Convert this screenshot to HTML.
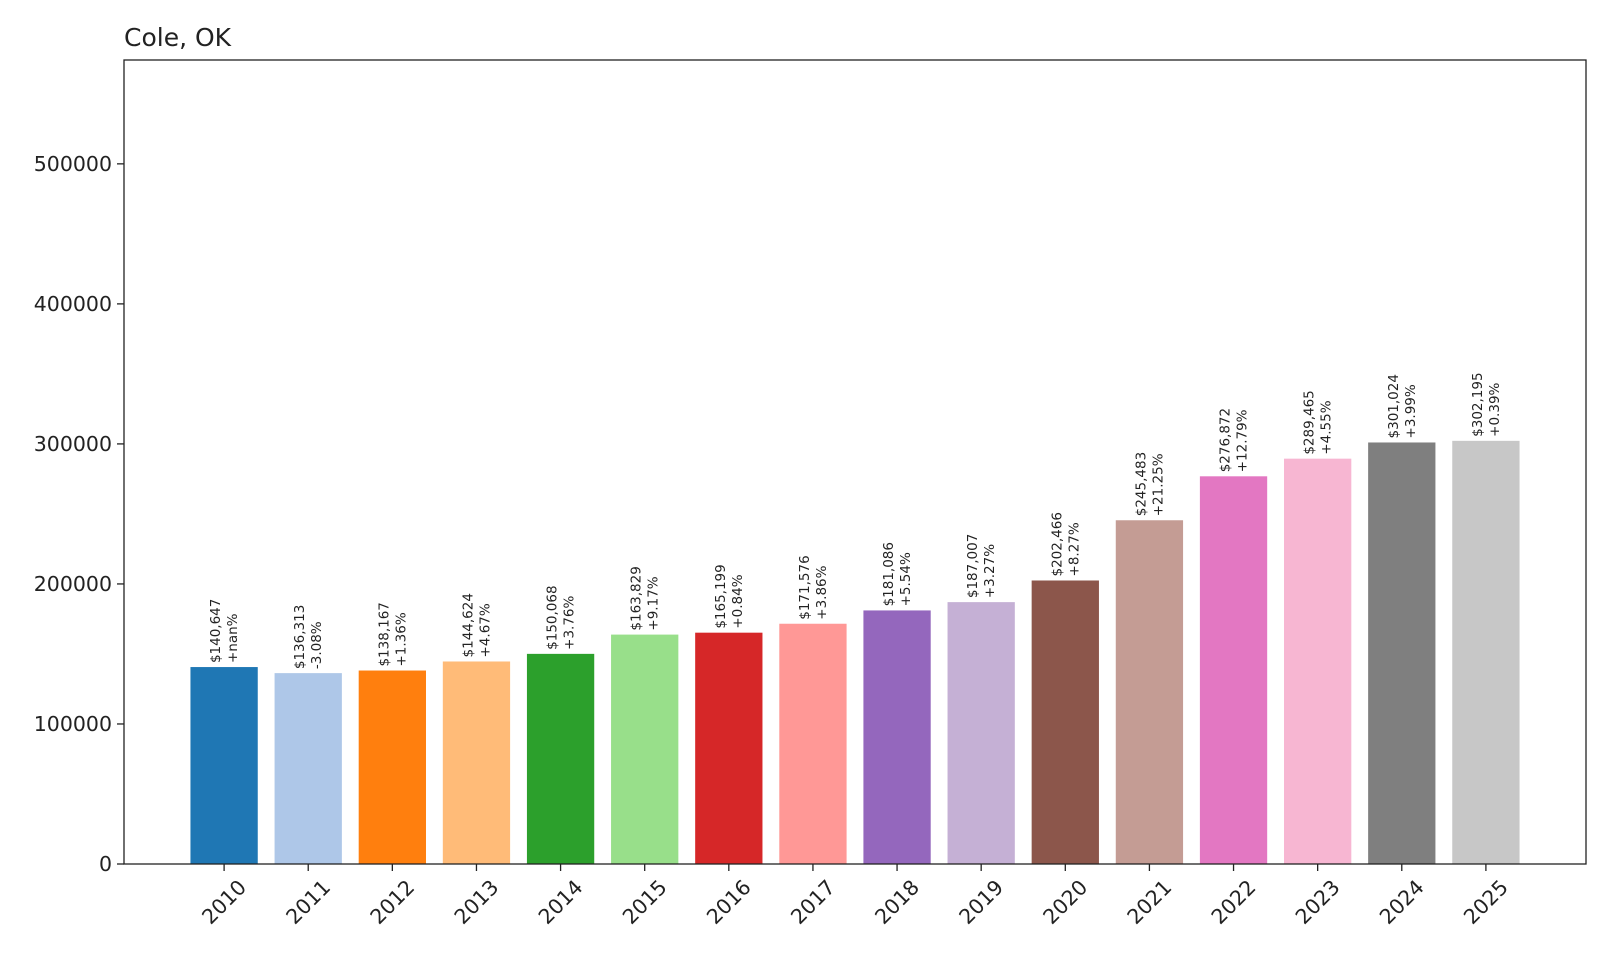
<!DOCTYPE html>
<html><head><meta charset="utf-8"><style>
html,body{margin:0;padding:0;background:#fff;}
svg{display:block;font-family:"DejaVu Sans","Liberation Sans",sans-serif;}
</style></head><body>
<svg id="chart" width="1600" height="960" viewBox="0 0 1600 960" xmlns="http://www.w3.org/2000/svg">
<rect width="1600" height="960" fill="#fff"/>
<text x="124" y="46" font-size="25" fill="#222">Cole, OK</text>
<g id="bars"></g><g id="labels"></g><g id="axes"></g>
</svg>
<script>
const years = ["2010","2011","2012","2013","2014","2015","2016","2017","2018","2019","2020","2021","2022","2023","2024","2025"];
const values = [140647,136313,138167,144624,150068,163829,165199,171576,181086,187007,202466,245483,276872,289465,301024,302195];
const pctLabels = ["+nan%","-3.08%","+1.36%","+4.67%","+3.76%","+9.17%","+0.84%","+3.86%","+5.54%","+3.27%","+8.27%","+21.25%","+12.79%","+4.55%","+3.99%","+0.39%"];
const yTicks = [0,100000,200000,300000,400000,500000];
const colors = ["#1f77b4","#aec7e8","#ff7f0e","#ffbb78","#2ca02c","#98df8a","#d62728","#ff9896","#9467bd","#c5b0d5","#8c564b","#c49c94","#e377c2","#f7b6d2","#7f7f7f","#c7c7c7"];

const NS="http://www.w3.org/2000/svg";
const L=124,R=1586,T=60,B=864;
const yMax=Math.max(...values)*1.9;
const xMin=-0.4-0.79,xMax=(years.length-1)+0.4+0.79;
const xs=i=>L+(i-xMin)/(xMax-xMin)*(R-L);
const ys=v=>B-v/yMax*(B-T);
const bw=0.8*(R-L)/(xMax-xMin);
function mk(tag,attrs,parent){const e=document.createElementNS(NS,tag);for(const k in attrs)e.setAttribute(k,attrs[k]);parent.appendChild(e);return e;}
const gb=document.getElementById('bars'),gl=document.getElementById('labels'),ga=document.getElementById('axes');
values.forEach((v,i)=>{
  const cx=xs(i);
  const r=mk('rect',{x:cx-bw/2,y:ys(v),width:bw,height:B-ys(v),fill:colors[i]},gb);
  
  
  const ty=ys(v)-4;
  const t=mk('text',{transform:`translate(${cx},${ty}) rotate(-90)`,'font-size':13.5,fill:'#222'},gl);
  
  
  const a=mk('tspan',{x:0,y:-4,'text-anchor':'start'},t);a.textContent='$'+v.toLocaleString('en-US');
  const b=mk('tspan',{x:0,y:13,'text-anchor':'start'},t);b.textContent=pctLabels[i];
  // center the two-line block: shift lines via y offsets relative to center
  mk('line',{x1:cx,y1:B,x2:cx,y2:B+7,stroke:'#222','stroke-width':1.3},ga);
  const xl=mk('text',{transform:`translate(${cx},${902}) rotate(-45)`,'text-anchor':'middle','dominant-baseline':'central','font-size':20.5,fill:'#222'},ga);
  
  
  xl.textContent=years[i];
});
yTicks.forEach(v=>{
  const y=ys(v);
  mk('line',{x1:L-7,y1:y,x2:L,y2:y,stroke:'#222','stroke-width':1.3},ga);
  const t=mk('text',{x:L-12,y:y,'text-anchor':'end','dominant-baseline':'central','font-size':20.5,fill:'#222'},ga);
  
  
  t.textContent=String(v);
});
const fr=mk('rect',{x:L,y:T,width:R-L,height:B-T,fill:'none',stroke:'#222','stroke-width':1.3},ga);


</script>
</body></html>
